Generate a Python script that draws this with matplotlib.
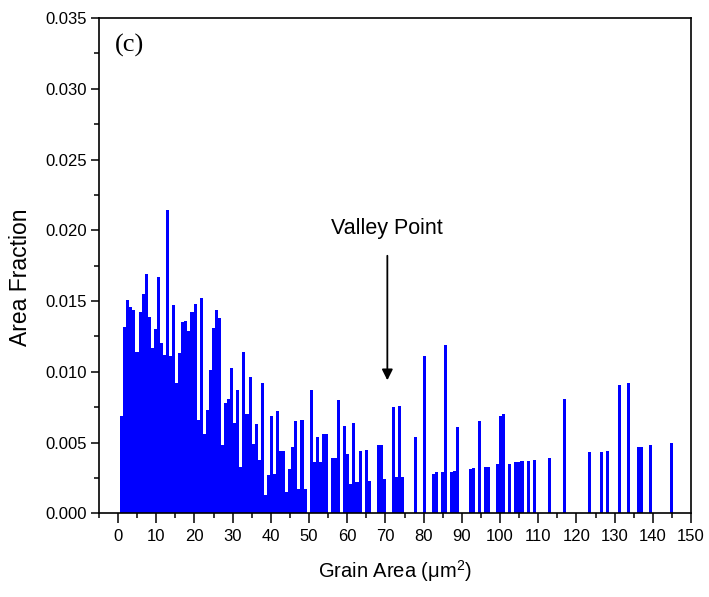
import numpy as np
import matplotlib
matplotlib.use("Agg")
import matplotlib.pyplot as plt
from matplotlib.ticker import MultipleLocator, FormatStrFormatter

# histogram bins: first bin centre and bin width (um^2)
bin_start = 0.95
bin_width = 0.8

# area fraction per bin, bins 0..180
area_fraction = [
    0.0069, 0.0132, 0.0151, 0.0146, 0.0144, 0.0114, 0.0142, 0.0155, 0.0169, 0.0139,
    0.0117, 0.0130, 0.0167, 0.0120, 0.0112, 0.0214, 0.0111, 0.0147, 0.0092, 0.0113,
    0.0135, 0.0136, 0.0129, 0.0142, 0.0148, 0.0066, 0.0152, 0.0056, 0.0073, 0.0101,
    0.0131, 0.0144, 0.0138, 0.0048, 0.0078, 0.0081, 0.0103, 0.0064, 0.0087, 0.0033,
    0.0114, 0.0070, 0.0096, 0.0049, 0.0063, 0.0038, 0.0092, 0.0013, 0.0027, 0.0069,
    0.0028, 0.0072, 0.0044, 0.0044, 0.0015, 0.0031, 0.0047, 0.0065, 0.0017, 0.0066,
    0.0017, 0.0,    0.0087, 0.0036, 0.0054, 0.0036, 0.0056, 0.0056, 0.0,    0.0039,
    0.0039, 0.0080, 0.0,    0.0062, 0.0042, 0.0021, 0.0064, 0.0022, 0.0044, 0.0,
    0.0045, 0.0023, 0.0,    0.0,    0.0048, 0.0048, 0.0024, 0.0,    0.0,    0.0075,
    0.0026, 0.0076, 0.0026, 0.0,    0.0,    0.0,    0.0054, 0.0,    0.0,    0.0111,
    0.0,    0.0,    0.0028, 0.0029, 0.0,    0.0029, 0.0119, 0.0,    0.0029, 0.0030,
    0.0061, 0.0,    0.0,    0.0,    0.0031, 0.0032, 0.0,    0.0065, 0.0,    0.0033,
    0.0033, 0.0,    0.0,    0.0035, 0.0069, 0.0070, 0.0,    0.0035, 0.0,    0.0036,
    0.0036, 0.0037, 0.0,    0.0037, 0.0,    0.0038, 0.0,    0.0,    0.0,    0.0,
    0.0039, 0.0,    0.0,    0.0,    0.0,    0.0081, 0.0,    0.0,    0.0,    0.0,
    0.0,    0.0,    0.0,    0.0043, 0.0,    0.0,    0.0,    0.0043, 0.0,    0.0044,
    0.0,    0.0,    0.0,    0.0091, 0.0,    0.0,    0.0092, 0.0,    0.0,    0.0047,
    0.0047, 0.0,    0.0,    0.0048, 0.0,    0.0,    0.0,    0.0,    0.0,    0.0,
    0.0050,
]

valley_x = 70.5
valley_tip = 0.0094
valley_tail = 0.0182
valley_label = "Valley Point"
panel_label = "(c)"


def main():
    plt.rcParams['font.family'] = ['Liberation Sans', 'DejaVu Sans']
    plt.rcParams['mathtext.default'] = 'regular'

    fig = plt.figure(figsize=(7.09, 5.97), dpi=100)
    ax = fig.add_axes([0.1396, 0.1402, 0.835, 0.8296])

    centres = bin_start + bin_width * np.arange(len(area_fraction))
    ax.bar(centres, area_fraction, width=bin_width, color='#0000ff',
           edgecolor='none', linewidth=0)

    ax.set_xlim(-5, 150)
    ax.set_ylim(0, 0.035)
    ax.xaxis.set_major_locator(MultipleLocator(10))
    ax.xaxis.set_minor_locator(MultipleLocator(5))
    ax.yaxis.set_major_locator(MultipleLocator(0.005))
    ax.yaxis.set_minor_locator(MultipleLocator(0.0025))
    ax.yaxis.set_major_formatter(FormatStrFormatter('%.3f'))

    ax.tick_params(axis='x', which='major', direction='out', length=7.5, width=1.1,
                   labelsize=12, pad=4)
    ax.tick_params(axis='x', which='minor', direction='out', length=3.8, width=1.1)
    ax.tick_params(axis='y', which='major', direction='out', length=5.8, width=1.1,
                   labelsize=12, pad=3)
    ax.tick_params(axis='y', which='minor', direction='out', length=3.4, width=1.1)
    for s in ax.spines.values():
        s.set_linewidth(1.2)

    ax.set_xlabel('Grain Area (\u03bcm$^{2}$)', fontsize=14.5, labelpad=10)
    ax.set_ylabel('Area Fraction', fontsize=16.5)
    # right edge of the rotated label sits just left of the tick labels
    ax.yaxis.set_label_coords(-0.113, 0.477)

    ax.annotate('', xy=(valley_x, valley_tip), xytext=(valley_x, valley_tail),
                arrowprops=dict(arrowstyle='-|>', color='black', lw=1.3,
                                mutation_scale=16, shrinkA=0, shrinkB=0))
    ax.text(valley_x, 0.0201, valley_label, ha='center', va='center', fontsize=15.5)

    ax.text(0.027, 0.968, panel_label, transform=ax.transAxes, ha='left', va='top',
            fontsize=19, family=['Liberation Serif', 'DejaVu Serif'])

    fig.savefig('out.png', dpi=100)


if __name__ == '__main__':
    main()
